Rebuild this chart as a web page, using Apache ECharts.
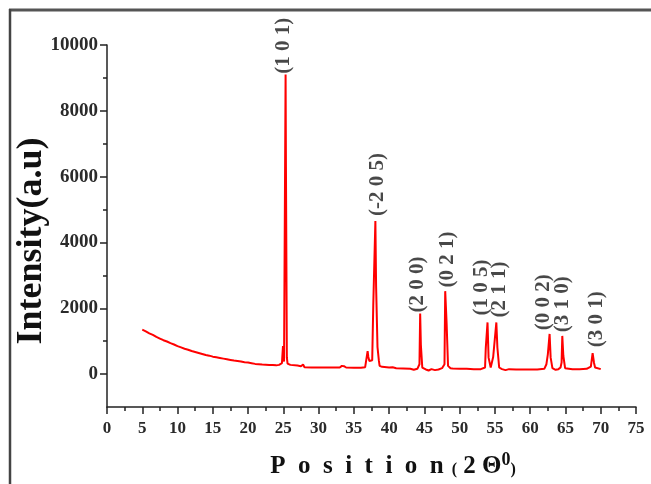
<!DOCTYPE html>
<html>
<head>
<meta charset="utf-8">
<script src="https://cdn.jsdelivr.net/npm/echarts@6/dist/echarts.min.js"></script>
<style>
html,body{margin:0;padding:0;background:#fff;}
#chart{width:651px;height:484px;}
</style>
</head>
<body>
<div id="chart"></div>
<script>
// ---- data ----
const twoTheta = [5.0,5.5,6.0,6.5,7.0,7.5,8.0,8.5,9.0,9.5,10.0,10.5,11.0,11.5,12.0,12.5,13.0,13.5,14.0,14.5,15.0,15.5,16.0,16.5,17.0,17.5,18.0,18.5,19.0,19.5,20.0,20.5,21.0,21.5,22.0,22.5,23.0,23.5,24.0,24.2,24.4,24.8,24.95,25.1,25.25,25.32,25.37,25.45,25.5,25.6,25.8,26.0,27.0,27.5,27.8,28.0,29,30,31,32,33,33.3,33.6,33.9,35,36,36.6,36.8,36.95,37.05,37.2,37.6,37.75,37.95,38.05,38.15,38.25,38.35,38.45,38.55,38.65,38.75,39,40,40.5,41,42,43,43.5,44,44.2,44.3,44.4,44.5,44.6,44.7,45.2,45.6,46,46.5,47,47.5,47.85,47.95,48.15,48.25,48.35,48.45,48.7,49,50,51,52,53,53.6,53.7,53.85,53.95,54.05,54.1,54.3,54.4,54.6,54.75,54.85,55.2,55.3,55.35,55.5,55.6,56,56.5,57,58,59,60,61,62,62.3,62.5,62.65,62.75,62.85,62.9,63.05,63.15,63.6,64,64.3,64.45,64.55,64.65,64.7,64.85,64.95,66,67,68,68.6,68.85,68.95,69.05,69.2,69.4,70];
const intensity = [1350,1300,1240,1190,1130,1080,1030,990,940,900,850,810,770,740,700,670,640,610,580,560,530,510,490,470,450,430,410,400,380,360,350,330,310,300,290,285,280,275,265,230,280,330,850,380,400,9100,6300,6300,500,320,300,280,260,240,290,210,200,200,200,200,200,250,240,200,190,190,210,220,700,520,400,420,2080,2080,4650,2690,2690,820,820,400,250,230,220,200,210,180,170,160,130,160,220,300,1840,880,880,200,140,110,150,120,140,180,300,2520,1540,1540,250,200,180,170,160,160,150,150,200,790,790,1570,1570,500,500,200,200,520,520,1570,1570,800,800,200,150,120,150,140,140,140,140,160,300,600,600,1220,1220,500,500,180,130,150,200,350,1160,1160,550,550,180,150,150,160,230,640,640,340,200,180,150];

const hklLabels = ['(1 0 1)','(-2 0 5)','(2 0 0)','(0 2 1)','(1 0 5)','(2 1 1)','(0 0 2)','(3 1 0)','(3 0 1)'];
const labelTheta = [25.0,38.4,44.1,48.3,53.05,55.6,61.85,64.55,69.35];
const labelIntensity = [9124,4804,1873,2628,1782,1722,1329,1269,816];

const xMinorTicks = [2.5,7.5,12.5,17.5,22.5,27.5,32.5,37.5,42.5,47.5,52.5,57.5,62.5,67.5,72.5];
const yMajorTicks = [0,2000,4000,6000,8000,10000];
const yMinorTicks = [1000,3000,5000,7000,9000];

const xTitle = 'P  o  s  i  t  i  o  n';
const yTitle = 'Intensity(a.u)';

// ---- chart ----
const serif = '"Liberation Serif","Times New Roman",serif';
const axisColor = '#222';
const chart = echarts.init(document.getElementById('chart'), null, {renderer:'canvas'});

const lineData = twoTheta.map((t,i)=>[t,intensity[i]]);
const labelData = hklLabels.map((s,i)=>({value:[labelTheta[i],labelIntensity[i]], name:s}));

chart.setOption({
  animation:false,
  backgroundColor:'#fff',
  grid:{left:107,right:15,top:45,bottom:77},
  xAxis:[{
    type:'value', min:0, max:75, interval:5,
    axisLine:{onZero:false,lineStyle:{color:axisColor,width:1.5}},
    axisTick:{length:7,lineStyle:{color:axisColor,width:1.5}},
    splitLine:{show:false},
    axisLabel:{margin:13,color:'#2a2a2a',fontFamily:serif,fontWeight:'bold',fontSize:17}
  },{
    type:'value', min:0, max:75, position:'bottom',
    axisLine:{show:false,onZero:false},
    axisTick:{show:true,length:4,lineStyle:{color:axisColor,width:1.5},customValues:xMinorTicks},
    splitLine:{show:false},
    axisLabel:{show:false,customValues:xMinorTicks}
  }],
  yAxis:[{
    type:'value', min:-1000, max:10000,
    axisLine:{show:true,onZero:false,lineStyle:{color:axisColor,width:1.5}},
    axisTick:{show:true,length:7,lineStyle:{color:axisColor,width:1.5},customValues:yMajorTicks},
    splitLine:{show:false},
    axisLabel:{margin:9,color:'#2a2a2a',fontFamily:serif,fontWeight:'bold',fontSize:19,
      customValues:yMajorTicks, formatter:v=>String(v)}
  },{
    type:'value', min:-1000, max:10000, position:'left',
    axisLine:{show:false,onZero:false},
    axisTick:{show:true,length:4,lineStyle:{color:axisColor,width:1.5},customValues:yMinorTicks},
    splitLine:{show:false},
    axisLabel:{show:false,customValues:yMinorTicks}
  }],
  series:[{
    type:'line', data:lineData, showSymbol:false, symbol:'none',
    lineStyle:{color:'#ff0000',width:2}, z:3
  },{
    type:'scatter', data:labelData, symbolSize:0, z:4,
    label:{show:true, formatter:p=>p.name, position:[0,0], rotate:90,
      align:'left', verticalAlign:'middle',
      fontFamily:serif, fontSize:21, fontWeight:'bold', color:'#1a1a1a'}
  }],
  graphic:[
    {type:'line', shape:{x1:9,y1:10,x2:651,y2:10}, style:{stroke:'#555',lineWidth:3}},
    {type:'line', shape:{x1:10,y1:9,x2:10,y2:484}, style:{stroke:'#444',lineWidth:2.5}},
    {type:'text', x:32, y:241, rotation:Math.PI/2,
      style:{text:yTitle, font:'bold 36px '+serif, fill:'#111', align:'center', verticalAlign:'middle'}},
    {type:'text', x:393, y:467,
      style:{text:'{a|'+xTitle+'}{p|  (}{b| 2 Θ}{s|0}{p|)}', align:'center', verticalAlign:'middle',
        rich:{
          a:{font:'bold 25px '+serif, fill:'#111'},
          p:{font:'bold 16px '+serif, fill:'#111', padding:[6,0,0,0]},
          b:{font:'bold 25px '+serif, fill:'#111'},
          s:{font:'bold 18px '+serif, fill:'#111', padding:[0,0,14,0]}
        }}}
  ]
});
</script>
</body>
</html>
